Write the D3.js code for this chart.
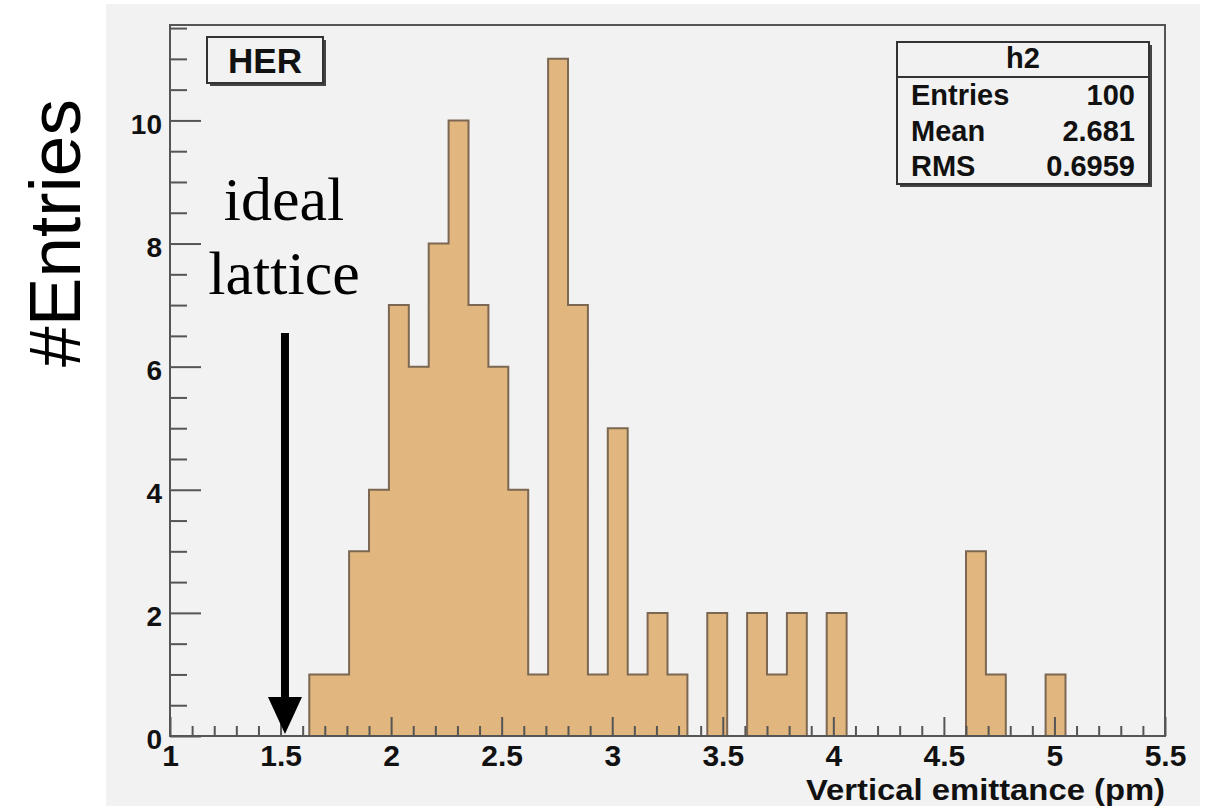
<!DOCTYPE html>
<html>
<head>
<meta charset="utf-8">
<script src="https://cdn.jsdelivr.net/npm/d3@7"></script>
<style>
  body { margin: 0; background: #fff; }
  svg text { font-family: "Liberation Sans", Arial, sans-serif; }
</style>
</head>
<body>
<div id="chart"></div>
<script>
// histogram h2: 50 bins from 1 to 5.5
var binLow = 1;
var binHigh = 5.5;
var counts = [0,0,0,0,0,0,0,1,1,3,4,7,6,8,10,7,6,4,1,11,7,1,5,1,2,1,0,2,0,2,1,2,0,2,0,0,0,0,0,0,3,1,0,0,1,0,0,0,0,0];
var xMajorTicks = [1, 1.5, 2, 2.5, 3, 3.5, 4, 4.5, 5, 5.5];
var yMajorTicks = [0, 2, 4, 6, 8, 10];
var statLabels = ["Entries", "Mean", "RMS"];
var statValues = ["100", "2.681", "0.6959"];
var idealValue = 1.52;

var svgWidth = 1209;
var svgHeight = 806;

var frame = { left: 170, top: 25, right: 1165, bottom: 736 };

var svg = d3.select("#chart")
  .append("svg")
  .attr("width", svgWidth)
  .attr("height", svgHeight);

// grey pad
svg.append("rect")
  .attr("x", 106).attr("y", 4)
  .attr("width", 1094).attr("height", 802)
  .attr("fill", "#f2f2f2");

var nBins = counts.length;
var binWidth = (binHigh - binLow) / nBins;
var bins = counts.map(function(c, i) {
  return { x0: binLow + i * binWidth, x1: binLow + (i + 1) * binWidth, n: c };
});

var x = d3.scaleLinear()
  .domain([binLow, binHigh])
  .range([frame.left, frame.right]);

var y = d3.scaleLinear()
  .domain([0, 1.05 * d3.max(counts)])
  .range([frame.bottom, frame.top]);

// step points of the histogram
var pts = [[binLow, 0]];
bins.forEach(function(d) {
  pts.push([d.x0, d.n]);
  pts.push([d.x1, d.n]);
});
pts.push([binHigh, 0]);

// fill as one area so there are no seams between bins
svg.append("path")
  .attr("d", d3.area().x(d => x(d[0])).y0(y(0)).y1(d => y(d[1]))(pts))
  .attr("fill", "#e1b77f");

// outline
svg.append("path")
  .attr("d", d3.line().x(d => x(d[0])).y(d => y(d[1]))(pts))
  .attr("fill", "none")
  .attr("stroke", "#7b6752")
  .attr("stroke-width", 2);

// frame
svg.append("rect")
  .attr("x", frame.left).attr("y", frame.top)
  .attr("width", frame.right - frame.left)
  .attr("height", frame.bottom - frame.top)
  .attr("fill", "none")
  .attr("stroke", "#555")
  .attr("stroke-width", 2);

// y axis ticks
var yMinor = d3.range(0, 11.6, 0.5).filter(v => v % 2 !== 0);
var yMinorAxis = svg.append("g")
  .attr("transform", `translate(${frame.left},0)`)
  .call(d3.axisLeft(y).tickValues(yMinor).tickSize(-17).tickFormat(""));

var yAxis = svg.append("g")
  .attr("transform", `translate(${frame.left},0)`)
  .call(d3.axisLeft(y).tickValues(yMajorTicks).tickSize(-31).tickPadding(8));

// x axis ticks
var xMinor = d3.range(11, 55).map(v => v / 10).filter(v => (v * 10) % 5 !== 0);
var xMinorAxis = svg.append("g")
  .attr("transform", `translate(0,${frame.bottom})`)
  .call(d3.axisBottom(x).tickValues(xMinor).tickSize(-10).tickFormat(""));

var xAxis = svg.append("g")
  .attr("transform", `translate(0,${frame.bottom})`)
  .call(d3.axisBottom(x).tickValues(xMajorTicks).tickSize(-19).tickPadding(9).tickFormat(d3.format("")));

[yMinorAxis, yAxis, xMinorAxis, xAxis].forEach(function(g) {
  g.select(".domain").remove();
  g.selectAll(".tick line").attr("stroke", "#555").attr("stroke-width", 2);
});

yAxis.selectAll(".tick text")
  .attr("font-size", "28px")
  .attr("font-weight", "bold")
  .attr("fill", "#111")
  .attr("dy", "0.45em")
  .style("font-family", "Liberation Sans, Arial, sans-serif");

xAxis.selectAll(".tick text")
  .attr("font-size", "30px")
  .attr("font-weight", "bold")
  .attr("fill", "#111")
  .attr("dy", "0.71em")
  .style("font-family", "Liberation Sans, Arial, sans-serif");

// x axis title
svg.append("text")
  .attr("x", 806)
  .attr("y", 800)
  .attr("textLength", frame.right - 806)
  .attr("lengthAdjust", "spacingAndGlyphs")
  .attr("font-size", "29px")
  .attr("font-weight", "bold")
  .attr("fill", "#111")
  .text("Vertical emittance (pm)");

// y axis title, outside the pad
svg.append("text")
  .attr("transform", "translate(80,233) rotate(-90)")
  .attr("text-anchor", "middle")
  .attr("font-size", "73px")
  .attr("fill", "#000")
  .text("#Entries");

// HER label
svg.append("rect")
  .attr("x", 210).attr("y", 40).attr("width", 116).attr("height", 46)
  .attr("fill", "#444");
svg.append("rect")
  .attr("x", 207).attr("y", 37).attr("width", 116).attr("height", 46)
  .attr("fill", "#f2f2f2").attr("stroke", "#333").attr("stroke-width", 2);
svg.append("text")
  .attr("x", 265).attr("y", 73)
  .attr("text-anchor", "middle")
  .attr("font-size", "35px")
  .attr("font-weight", "bold")
  .attr("fill", "#111")
  .text("HER");

// stats box
var box = { x: 897, y: 42, w: 252, h: 142 };
svg.append("rect")
  .attr("x", box.x + 3).attr("y", box.y + 3).attr("width", box.w).attr("height", box.h)
  .attr("fill", "#444");
svg.append("rect")
  .attr("x", box.x).attr("y", box.y).attr("width", box.w).attr("height", box.h)
  .attr("fill", "#f2f2f2").attr("stroke", "#333").attr("stroke-width", 2);
svg.append("line")
  .attr("x1", box.x).attr("x2", box.x + box.w)
  .attr("y1", 77).attr("y2", 77)
  .attr("stroke", "#333").attr("stroke-width", 2);
svg.append("text")
  .attr("x", box.x + box.w / 2).attr("y", 68)
  .attr("text-anchor", "middle")
  .attr("font-size", "29px").attr("font-weight", "bold").attr("fill", "#111")
  .text("h2");

var rowY = [105, 141, 176];
svg.selectAll(".statLabel")
  .data(statLabels)
  .enter()
  .append("text")
  .attr("class", "statLabel")
  .attr("x", box.x + 14)
  .attr("y", (d, i) => rowY[i])
  .attr("font-size", "29px").attr("font-weight", "bold").attr("fill", "#111")
  .text(d => d);
svg.selectAll(".statValue")
  .data(statValues)
  .enter()
  .append("text")
  .attr("class", "statValue")
  .attr("x", box.x + box.w - 14)
  .attr("y", (d, i) => rowY[i])
  .attr("text-anchor", "end")
  .attr("font-size", "29px").attr("font-weight", "bold").attr("fill", "#111")
  .text(d => d);

// ideal lattice annotation
var note = svg.append("text")
  .attr("text-anchor", "middle")
  .attr("font-size", "62px")
  .attr("fill", "#000")
  .style("font-family", "Liberation Serif, Times New Roman, serif");
note.append("tspan").attr("x", 284).attr("y", 220).text("ideal");
note.append("tspan").attr("x", 284).attr("y", 294).text("lattice");

var ax = x(idealValue);
svg.append("line")
  .attr("x1", ax).attr("x2", ax)
  .attr("y1", 333).attr("y2", 702)
  .attr("stroke", "#000").attr("stroke-width", 8);
svg.append("path")
  .attr("d", `M${ax - 17},697 L${ax + 17},697 L${ax},734 Z`)
  .attr("fill", "#000");
</script>
</body>
</html>
